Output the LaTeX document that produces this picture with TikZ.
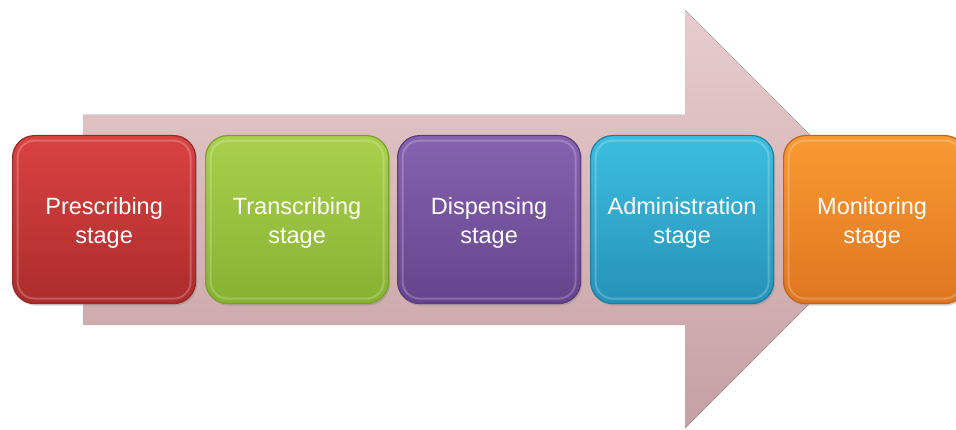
\documentclass[tikz,border=0pt]{standalone}
\usepackage{fontspec}
\setmainfont{Liberation Sans}
\usetikzlibrary{shadows}
\definecolor{arrTop}{RGB}{232,204,205}
\definecolor{arrBot}{RGB}{198,160,162}
\definecolor{rT}{RGB}{218,66,66}\definecolor{rB}{RGB}{172,44,44}\definecolor{rE}{RGB}{150,40,40}
\definecolor{gT}{RGB}{170,208,76}\definecolor{gB}{RGB}{134,178,50}\definecolor{gE}{RGB}{120,160,45}
\definecolor{pT}{RGB}{134,98,176}\definecolor{pB}{RGB}{102,68,140}\definecolor{pE}{RGB}{90,60,125}
\definecolor{tT}{RGB}{60,190,224}\definecolor{tB}{RGB}{38,146,184}\definecolor{tE}{RGB}{30,125,160}
\definecolor{oT}{RGB}{250,154,50}\definecolor{oB}{RGB}{222,118,32}\definecolor{oE}{RGB}{190,100,30}
\tikzset{
  stagebox/.style={rounded corners=22pt, minimum width=183pt, minimum height=168pt,
    anchor=north west, line width=1.2pt, inner sep=0pt,
    drop shadow={shadow xshift=1.5pt, shadow yshift=-2pt, opacity=0.35},
    path picture={\draw[white,opacity=0.22,line width=2pt,rounded corners=17pt]
      ([shift={(5pt,-5pt)}]path picture bounding box.north west) rectangle
      ([shift={(-5pt,5pt)}]path picture bounding box.south east);}},
  stg/.style args={#1/#2/#3}{stagebox, top color=#1, bottom color=#2, draw=#3},
  stagetext/.style={align=center, text=white, font=\fontsize{23.5}{29}\selectfont, inner sep=0pt}
}
\begin{document}
\begin{tikzpicture}[x=1pt,y=-1pt]
\useasboundingbox (0,0) rectangle (956,430);
\clip (0,0) rectangle (956,430);
\fill[top color=arrTop, bottom color=arrBot, shading angle=0]
  (83,115) -- (685,115) -- (685,10) -- (894,219) -- (685,428) -- (685,325) -- (83,325) -- cycle;
\node[stg=rT/rB/rE] (p1) at (12,135) {};
\node[stg=gT/gB/gE] (p2) at (205,135) {};
\node[stg=pT/pB/pE] (p3) at (397,135) {};
\node[stg=tT/tB/tE] (p4) at (590,135) {};
\node[stg=oT/oB/oE] (p5) at (783,135) {};
\node[stagetext] (t1) at ([yshift=-3pt]p1.center) {Prescribing\\stage};
\node[stagetext] (t2) at ([yshift=-3pt]p2.center) {Transcribing\\stage};
\node[stagetext] (t3) at ([yshift=-3pt]p3.center) {Dispensing\\stage};
\node[stagetext] (t4) at ([yshift=-3pt]p4.center) {Administration\\stage};
\node[stagetext] (t5) at ([xshift=-3pt,yshift=-3pt]p5.center) {Monitoring\\stage};
\end{tikzpicture}
\end{document}
